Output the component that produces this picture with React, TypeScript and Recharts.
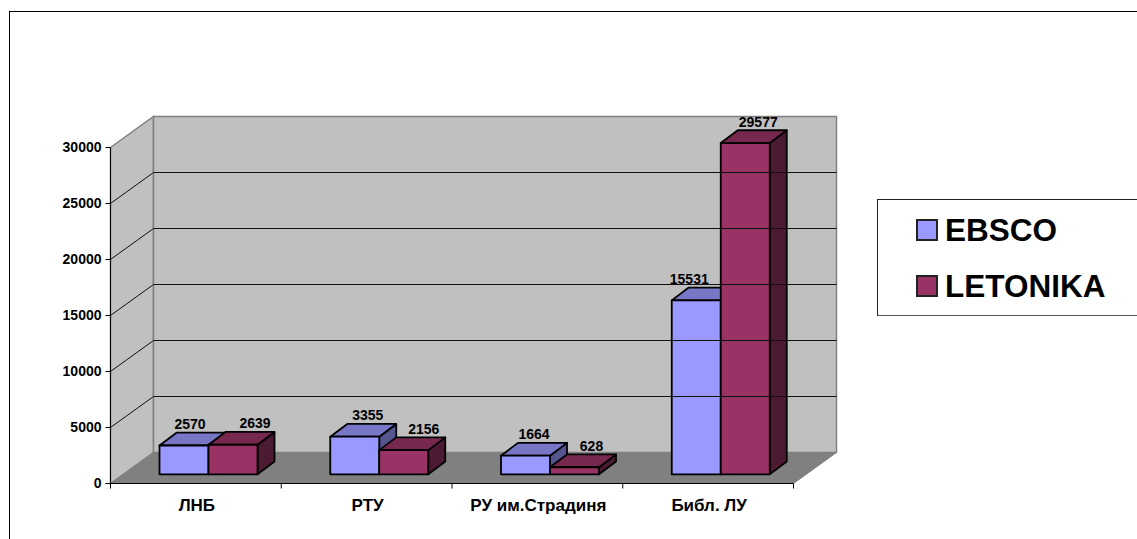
import React from "react";
import { BarChart, Bar, XAxis, YAxis, Legend, LabelList, ReferenceArea, ReferenceLine } from "recharts";

const categories = ["ЛНБ", "РТУ", "РУ им.Страдиня", "Библ. ЛУ"];
const ebsco = [2570, 3355, 1664, 15531];
const letonika = [2639, 2156, 628, 29577];
const yTicks = [0, 5000, 10000, 15000, 20000, 25000, 30000];

const rows = categories.map((name, i) => ({ name, EBSCO: ebsco[i], LETONIKA: letonika[i] }));

const FONT = "'Liberation Sans', Arial, sans-serif";
const W = 1137, H = 539;
const PLOT = { left: 110.5, top: 147.5, right: 793.5, bottom: 483.5 };
const BAND = (PLOT.right - PLOT.left) / categories.length;
const WALL_DX = 43, WALL_DY = 31;
const BAR_DX = 13, BAR_DY = 9.2, BAR_W = 49, DEPTH_X = 17, DEPTH_Y = 12.8;
const LABEL_NUDGE: Record<string, number[]> = { EBSCO: [6, 13, 8.5, -7], LETONIKA: [22, 20, 17, 13] };

const COLORS: Record<string, { front: string; top: string; side: string }> = {
  EBSCO: { front: "#9999FF", top: "#7777C6", side: "#55558F" },
  LETONIKA: { front: "#993366", top: "#77284F", side: "#4D1A33" },
};

function pts(list: number[][]) {
  return list.map((p) => p.join(",")).join(" ");
}

function WallShape(props: any) {
  const { x, y, width, height } = props;
  const r = x + width, b = y + height;
  return (
    <g>
      <polygon points={pts([[x, y], [x + WALL_DX, y - WALL_DY], [x + WALL_DX, b - WALL_DY], [x, b]])} fill="#C0C0C0" stroke="#808080" strokeWidth={1.5} />
      <polygon points={pts([[x + WALL_DX, y - WALL_DY], [r + WALL_DX, y - WALL_DY], [r + WALL_DX, b - WALL_DY], [x + WALL_DX, b - WALL_DY]])} fill="#C0C0C0" stroke="#808080" strokeWidth={1.5} />
      <polygon points={pts([[x, b], [x + WALL_DX, b - WALL_DY], [r + WALL_DX, b - WALL_DY], [r, b]])} fill="#808080" stroke="#808080" />
    </g>
  );
}

function GridShape(props: any) {
  const { x1, y1, x2, y2 } = props;
  return (
    <polyline
      points={pts([[x1, y1], [x1 + WALL_DX, y1 - WALL_DY], [x2 + WALL_DX, y2 - WALL_DY]])}
      fill="none"
      stroke="#111"
      strokeWidth={1}
    />
  );
}

function bar3d(key: string) {
  return (props: any) => {
    const { x, y, width, height } = props;
    const c = COLORS[key];
    const l = x + BAR_DX, r = l + width, t = y - BAR_DY, b = t + height;
    return (
      <g stroke="#000" strokeWidth={1.8} strokeLinejoin="round">
        <polygon points={pts([[r, t], [r + DEPTH_X, t - DEPTH_Y], [r + DEPTH_X, b - DEPTH_Y], [r, b]])} fill={c.side} />
        <polygon points={pts([[l, t], [l + DEPTH_X, t - DEPTH_Y], [r + DEPTH_X, t - DEPTH_Y], [r, t]])} fill={c.top} />
        <rect x={l} y={t} width={width} height={height} fill={c.front} />
      </g>
    );
  };
}

function barLabel(key: string) {
  return (props: any) => {
    const { x, y, width, value, index } = props;
    return (
      <text
        x={x + BAR_DX + width / 2 + LABEL_NUDGE[key][index]}
        y={y - BAR_DY - 16.5}
        textAnchor="middle"
        fontFamily={FONT}
        fontWeight="bold"
        fontSize={14}
        fill="#000"
      >
        {value}
      </text>
    );
  };
}

function CategoryTick(props: any) {
  const { x, payload, index } = props;
  const ax = PLOT.bottom;
  return (
    <g>
      <line x1={x - BAND / 2} x2={x - BAND / 2} y1={ax} y2={ax + 5} stroke="#000" />
      {index === categories.length - 1 && <line x1={x + BAND / 2} x2={x + BAND / 2} y1={ax} y2={ax + 5} stroke="#000" />}
      <text x={x + 1} y={ax + 27} textAnchor="middle" fontFamily={FONT} fontWeight="bold" fontSize={17} fill="#000">
        {payload.value}
      </text>
    </g>
  );
}

function LegendBox(props: any) {
  const items = props.payload || [];
  return (
    <div
      style={{
        position: "absolute",
        left: 0,
        top: 0,
        width: W - 877,
        height: 117,
        boxSizing: "border-box",
        background: "#fff",
        borderLeft: "1px solid #222",
        borderTop: "1px solid #222",
        borderBottom: "1px solid #555",
        fontFamily: FONT,
        fontWeight: "bold",
        fontSize: 31.5,
        color: "#000",
      }}
    >
      {items.map((it: any, i: number) => (
        <div key={it.value} style={{ position: "absolute", left: 38, top: 19 + i * 55.5, height: 22, whiteSpace: "nowrap" }}>
          <span
            style={{
              position: "absolute",
              left: 0,
              top: 0,
              width: 22,
              height: 22,
              boxSizing: "border-box",
              border: "2px solid #222",
              background: it.color,
            }}
          />
          <span style={{ position: "absolute", left: 29, top: -6, lineHeight: "34px" }}>{it.value}</span>
        </div>
      ))}
    </div>
  );
}

export default function App() {
  return (
    <div style={{ position: "absolute", left: 0, top: 0, width: W, height: H, overflow: "hidden", background: "#fff" }}>
      <div
        style={{
          position: "absolute",
          left: 9,
          top: 11,
          width: W - 9,
          height: H - 11,
          boxSizing: "border-box",
          borderLeft: "1px solid #000",
          borderTop: "1px solid #000",
        }}
      />
      <BarChart
        width={W}
        height={H}
        data={rows}
        barSize={BAR_W}
        barGap={0}
        margin={{ top: PLOT.top, left: PLOT.left - 60, right: W - PLOT.right, bottom: H - PLOT.bottom - 40 }}
        style={{ position: "absolute", left: 0, top: 0 }}
      >
        <ReferenceArea y1={0} y2={30000} shape={WallShape} ifOverflow="visible" />
        {yTicks.slice(1, -1).map((t) => (
          <ReferenceLine key={t} y={t} shape={GridShape} ifOverflow="visible" />
        ))}
        <XAxis dataKey="name" height={40} interval={0} axisLine={{ stroke: "#000" }} tickLine={false} tick={CategoryTick} />
        <YAxis
          width={60}
          domain={[0, 30000]}
          ticks={yTicks}
          interval={0}
          axisLine={{ stroke: "#000" }}
          tickLine={{ stroke: "#000" }}
          tickSize={5}
          tickMargin={4}
          tick={{ fontFamily: FONT, fontWeight: "bold", fontSize: 14, fill: "#000" }}
        />
        <Legend
          content={LegendBox}
          layout="vertical"
          align="right"
          verticalAlign="top"
          wrapperStyle={{ position: "absolute", left: 877, top: 199, width: 0, height: 0 }}
        />
        <Bar dataKey="EBSCO" fill={COLORS.EBSCO.front} isAnimationActive={false} shape={bar3d("EBSCO")}>
          <LabelList dataKey="EBSCO" content={barLabel("EBSCO")} />
        </Bar>
        <Bar dataKey="LETONIKA" fill={COLORS.LETONIKA.front} isAnimationActive={false} shape={bar3d("LETONIKA")}>
          <LabelList dataKey="LETONIKA" content={barLabel("LETONIKA")} />
        </Bar>
      </BarChart>
    </div>
  );
}
